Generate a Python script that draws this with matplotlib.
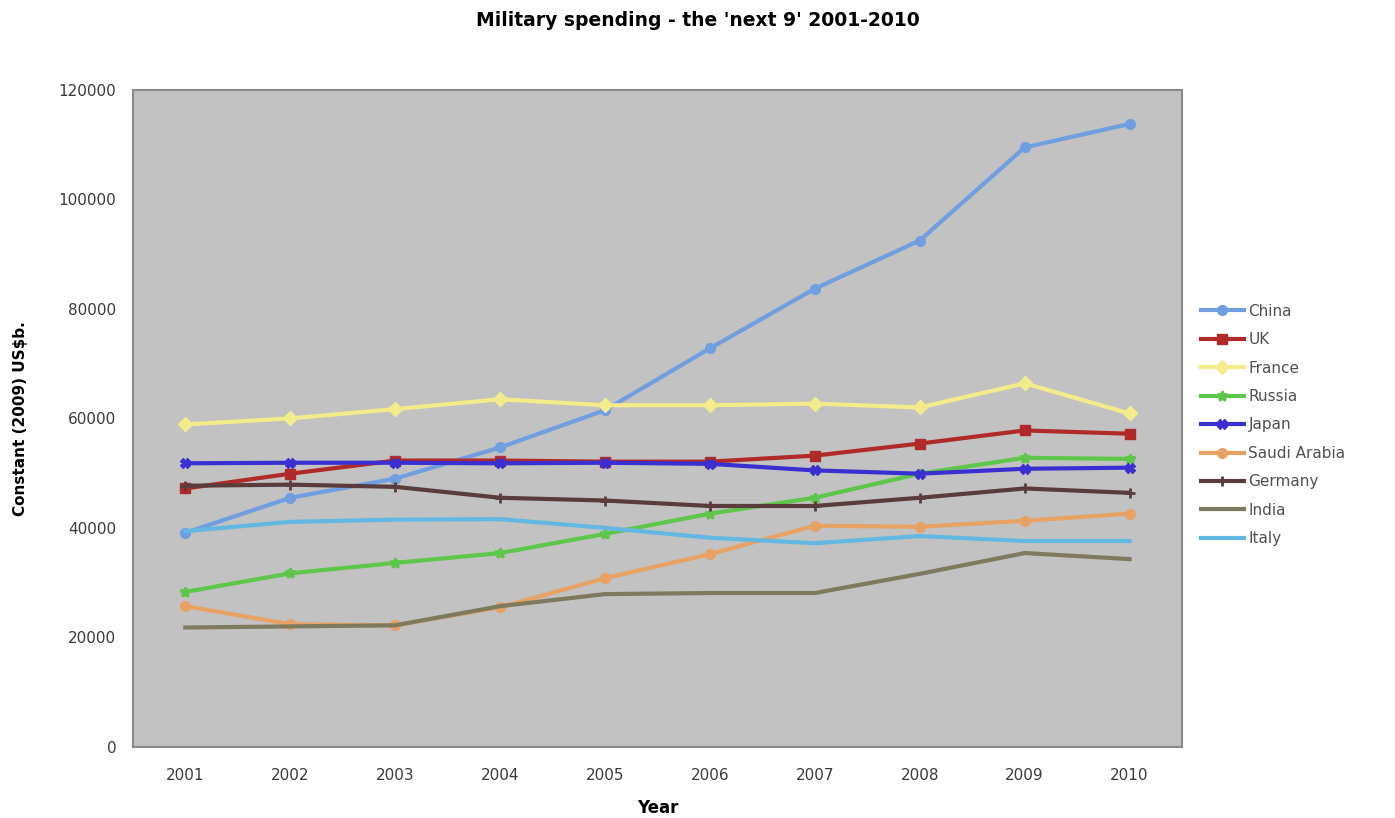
import matplotlib
matplotlib.use('Agg')
import matplotlib.pyplot as plt

years = ['2001', '2002', '2003', '2004', '2005', '2006', '2007', '2008', '2009', '2010']

china = [39100, 45500, 49000, 54700, 61500, 72800, 83700, 92500, 109500, 113800]
uk = [47200, 49900, 52300, 52300, 52100, 52100, 53200, 55400, 57800, 57200]
france = [58900, 60000, 61700, 63500, 62400, 62400, 62700, 62000, 66400, 60900]
russia = [28300, 31700, 33600, 35400, 38900, 42600, 45500, 49900, 52800, 52600]
japan = [51800, 51900, 51900, 51800, 51900, 51700, 50500, 49900, 50800, 51000]
saudi = [25700, 22400, 22200, 25500, 30800, 35200, 40400, 40200, 41300, 42600]
germany = [47700, 47900, 47500, 45500, 45000, 44000, 44000, 45500, 47200, 46400]
india = [21800, 22000, 22200, 25700, 27900, 28100, 28100, 31600, 35400, 34300]
italy = [39400, 41100, 41500, 41600, 40000, 38200, 37200, 38500, 37600, 37600]

series = [
    ('China', china, '#6f9fe0', 'o'),
    ('UK', uk, '#b02a2a', 's'),
    ('France', france, '#f4ec8a', 'D'),
    ('Russia', russia, '#5ec64a', '*'),
    ('Japan', japan, '#3a2fd0', 'X'),
    ('Saudi Arabia', saudi, '#e8a263', 'o'),
    ('Germany', germany, '#5a3c3c', '+'),
    ('India', india, '#7d7a5e', None),
    ('Italy', italy, '#62b8e2', None),
]

fig = plt.figure(figsize=(13.95, 8.18), dpi=100)
ax = fig.add_axes([0.0953, 0.087, 0.752, 0.803])
ax.set_facecolor('#c2c2c2')

x = list(range(len(years)))
for name, vals, col, mk in series:
    ax.plot(x, vals, color=col, lw=3, marker=mk, markersize=7 if mk else 0,
            markeredgewidth=2 if mk in ('+', '*') else 1, markeredgecolor=col,
            label=name, solid_joinstyle='round')

ax.set_xlim(-0.5, 9.5)
ax.set_ylim(0, 120000)
ax.set_xticks(x)
ax.set_xticklabels(years)
ax.set_yticks(range(0, 120001, 20000))
ax.tick_params(axis='both', length=0, labelsize=11, colors='#3a3a3a', pad=15)
ax.tick_params(axis='y', pad=12)
for s in ax.spines.values():
    s.set_color('#8a8a8a')
    s.set_linewidth(1.5)

ax.set_xlabel('Year', fontsize=12, fontweight='bold', labelpad=12)
ax.set_ylabel('Constant (2009) US$b.', fontsize=11, fontweight='bold', labelpad=22)
fig.suptitle("Military spending - the 'next 9' 2001-2010", fontsize=13.5, fontweight='bold', y=0.987)

leg = ax.legend(loc='center left', bbox_to_anchor=(1.005, 0.49), frameon=False,
                fontsize=11, handlelength=2.8, labelspacing=0.88, handletextpad=0.3)
for t in leg.get_texts():
    t.set_color('#505050')

fig.savefig('out.png', dpi=100)
